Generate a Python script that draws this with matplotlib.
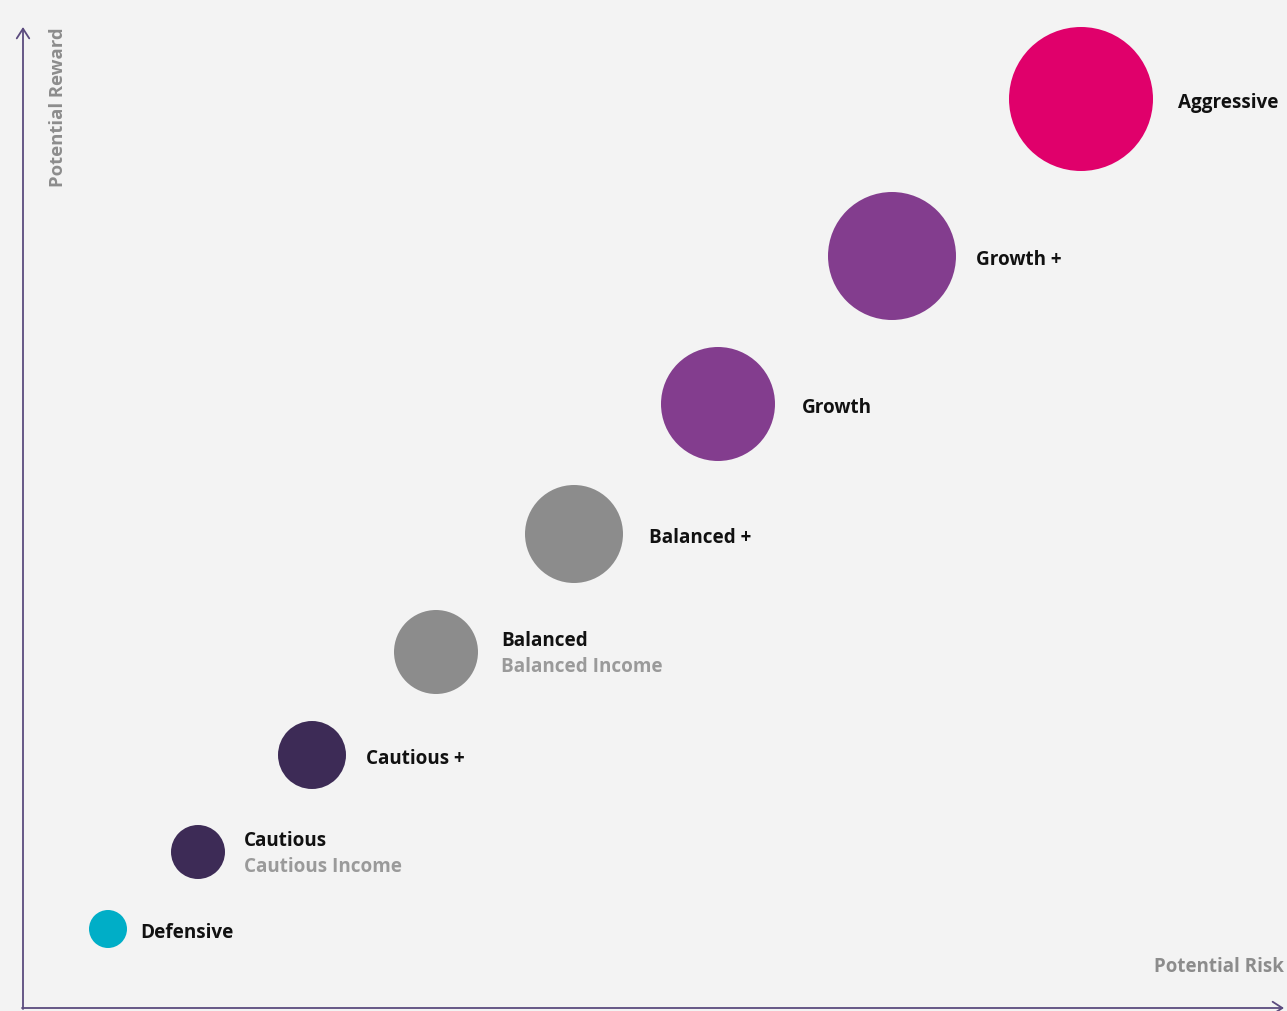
import matplotlib.pyplot as plt
from matplotlib.patches import Circle

# risk/reward profiles (positions in chart units, y measured up from the x axis)
names = ["Defensive", "Cautious", "Cautious +", "Balanced", "Balanced +",
         "Growth", "Growth +", "Aggressive"]
subtitles = ["", "Cautious Income", "", "Balanced Income", "", "", "", ""]
risk = [108, 198, 312, 436, 574, 718, 892, 1081]
reward = [82, 159, 256, 359, 477, 607, 755, 912]
radius = [19, 27, 34, 42, 49, 57, 64, 72]
colors = ["#00AEC7", "#3D2B56", "#3D2B56", "#8C8C8C", "#8C8C8C",
          "#833D8E", "#833D8E", "#E0006B"]
label_x = [140, 244, 366, 501, 649, 802, 976, 1178]

bg = "#F3F3F3"
axis_col = "#5B4B7E"
font = "Open Sans"

fig = plt.figure(figsize=(12.87, 10.12), dpi=100, facecolor=bg)
ax = fig.add_axes([0, 0, 1, 1])
ax.set_facecolor(bg)
ax.set_xlim(0, 1287)
ax.set_ylim(0, 1012)
ax.axis("off")

# axes with open arrow heads
arrow = dict(arrowstyle="->,head_length=0.7,head_width=0.45", color=axis_col, lw=1.3,
             shrinkA=0, shrinkB=0)
ax.annotate("", xy=(23, 984), xytext=(23, 2), arrowprops=arrow)
ax.annotate("", xy=(1284, 3), xytext=(22, 3), arrowprops=arrow)

ax.text(58, 905, "Potential Reward", rotation=90, ha="center", va="center",
        color="#8C8C8C", fontsize=13.3, family=font, fontweight="bold")
ax.text(1284, 45, "Potential Risk", ha="right", va="center",
        color="#8C8C8C", fontsize=13.5, family=font, fontweight="bold")

for n, s, x, y, r, c, lx in zip(names, subtitles, risk, reward, radius, colors, label_x):
    ax.add_patch(Circle((x, y), r, color=c, lw=0))
    if s:
        ax.text(lx, y + 12, n, ha="left", va="center", fontsize=13.6,
                family=font, fontweight="bold", color="#111111")
        ax.text(lx, y - 14, s, ha="left", va="center", fontsize=13.6,
                family=font, fontweight="bold", color="#9A9A9A")
    else:
        ax.text(lx, y - 3, n, ha="left", va="center", fontsize=13.6,
                family=font, fontweight="bold", color="#111111")

plt.savefig("out.png", dpi=100, facecolor=bg)
